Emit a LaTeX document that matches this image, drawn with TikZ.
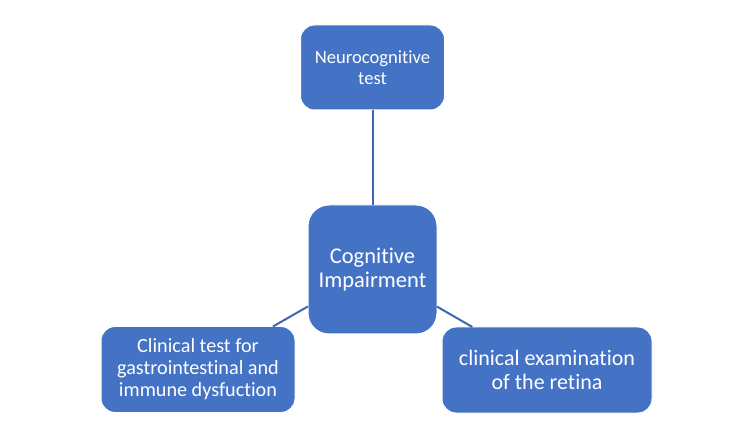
\documentclass[tikz,border=0pt]{standalone}
\usepackage{fontspec}
\setmainfont{Carlito}[Ligatures={NoCommon}]
\usetikzlibrary{positioning}
\definecolor{accent}{RGB}{68,114,196}
\definecolor{linkblue}{RGB}{62,103,178}

\begin{document}
\begin{tikzpicture}[%
x=1pt, y=1pt,
node distance=100pt,
on grid,
box/.style={rectangle, rounded corners=14pt, fill=accent, draw=white,
  line width=1pt, text=white, align=center, inner sep=0pt, outer sep=0pt},
link/.style={draw=linkblue, line width=2pt}
]
\useasboundingbox (0,0) rectangle (750,-438);
\node[box, minimum width=129pt, minimum height=129pt, rounded corners=21pt,
  font=\fontsize{22.5}{24.8}\selectfont] (ci) at (372.5,-269.5) {Cognitive\\Impairment};
\node[box, minimum width=144pt, minimum height=85pt,
  font=\fontsize{18.6}{20.6}\selectfont] (nt) [above=202pt of ci] {Neurocognitive\\test};
\node[box, minimum width=194pt, minimum height=86pt,
  font=\fontsize{20.2}{22}\selectfont] (gi) [below left=100pt and 174.5pt of ci]
  {Clinical test for\\gastrointestinal and\\immune dysfuction};
\node[box, minimum width=210pt, minimum height=86pt,
  font=\fontsize{22}{23.6}\selectfont] (ret) [below right=100.5pt and 174.5pt of ci]
  {clinical examination\\of the retina};

% spokes from the centre
\path[link] (ci) -- (nt);
\path[link] (ci) -- (gi);
\path[link] (ci) -- (ret);
\end{tikzpicture}
\end{document}
